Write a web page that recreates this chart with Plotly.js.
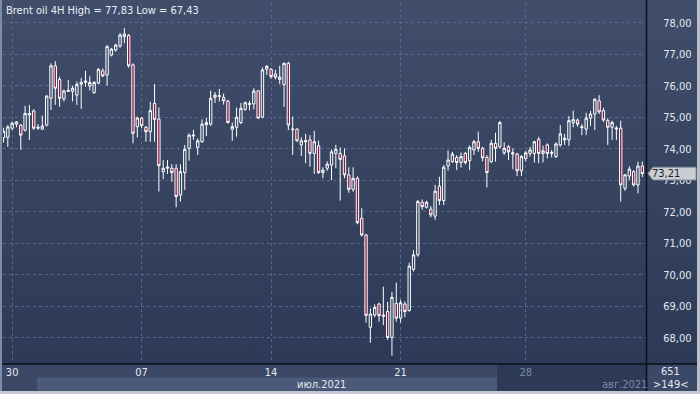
<!DOCTYPE html>
<html>
<head>
<meta charset="utf-8">
<script src="https://cdn.plot.ly/plotly-3.0.1.min.js"></script>
<style>
html,body{margin:0;padding:0;background:#2c3958;}
#chart{width:700px;height:394px;background:linear-gradient(to bottom,#404e6c 0%,#35435f 50%,#2b3856 100%);}
</style>
</head>
<body>
<div id="chart"></div>
<script>
// ---- data (4H candles, Brent oil) ----
const openP = [74.35,74.36,74.65,74.78,74.75,74.59,75.07,75.2,74.65,74.62,
74.75,75.6,76.63,76.2,75.58,75.82,75.82,75.7,76.05,76.1,
75.99,75.78,76.08,76.47,76.34,76.97,77.13,77.26,77.56,77.59,
76.66,74.7,74.97,74.68,74.54,75.44,74.94,73.27,73.38,73.38,
73.38,72.53,73.24,74.01,74.4,74.04,74.22,74.76,74.78,75.63,
75.66,75.63,75.51,74.62,74.68,74.83,75.25,75.4,75.42,75.84,
75.0,76.52,76.52,76.37,76.2,76.04,76.71,74.6,74.62,74.12,
74.22,74.28,73.85,74.09,73.24,73.38,73.48,73.85,73.85,73.77,
73.17,72.71,73.06,71.79,71.26,68.33,68.72,69.07,68.72,68.83,
68.01,69.09,68.62,69.07,68.86,70.17,70.63,72.3,72.14,72.08,
71.86,72.81,72.35,73.45,73.59,73.72,73.56,73.85,73.62,73.96,
74.22,74.01,73.72,73.59,74.17,74.06,73.87,74.06,73.83,73.83,
73.3,73.69,73.85,73.85,74.3,73.85,74.12,73.85,73.75,74.12,
74.28,74.28,74.83,74.91,74.7,74.62,74.97,75.1,75.52,75.21,
74.89,74.68,74.66,74.65,72.74,73.13,73.27,72.85,73.45];
const highP = [74.66,74.75,74.86,74.88,74.78,75.36,75.39,75.25,74.78,75.05,
75.7,76.71,76.78,76.29,75.88,76.18,76.0,76.13,76.24,76.47,
76.3,76.15,76.56,76.55,77.29,77.2,77.33,77.67,77.83,77.64,
76.71,75.02,75.0,74.72,75.49,76.05,75.31,73.64,73.64,73.51,
73.51,73.5,74.12,74.49,74.6,74.33,74.93,74.98,75.84,75.8,
75.9,75.75,75.55,74.83,75.31,75.45,75.5,75.52,75.92,75.86,
76.58,76.66,76.56,76.5,76.63,76.74,76.76,75.02,74.65,74.36,
74.47,74.43,74.57,74.25,73.41,73.6,73.98,74.12,74.04,74.01,
73.41,73.41,73.12,72.11,71.3,68.93,69.06,69.11,69.62,69.14,
69.46,69.75,69.2,69.15,70.38,70.78,72.37,72.39,72.35,72.18,
72.85,73.11,73.48,73.94,73.9,73.8,73.88,73.9,74.1,74.28,
74.54,74.06,73.8,74.28,74.51,74.88,74.2,74.12,74.01,73.87,
73.8,73.93,74.06,74.25,74.38,74.1,74.17,73.96,74.2,74.75,
74.47,75.04,75.21,74.96,74.78,75.14,75.2,75.6,75.7,75.3,
74.97,74.89,74.72,74.89,73.2,73.44,73.32,73.59,73.59];
const lowP = [74.2,74.06,74.59,74.68,73.96,74.54,74.28,74.6,74.6,74.6,
74.7,75.23,75.39,75.33,75.5,75.8,75.5,75.39,75.26,75.97,
75.85,75.74,76.05,76.27,76.0,76.93,77.08,77.2,77.35,76.57,
74.17,74.36,74.65,74.22,74.22,74.22,72.64,73.03,73.2,72.95,
72.14,72.32,72.69,73.62,74.28,73.8,74.19,74.4,74.72,75.45,
75.5,75.4,74.8,74.25,74.38,74.78,75.2,75.22,75.25,74.95,
74.97,76.34,76.22,76.2,76.05,75.33,74.59,73.8,74.22,73.77,
73.54,73.43,73.2,73.2,73.06,73.3,73.0,73.38,72.35,73.06,
72.6,72.63,71.6,71.21,68.48,67.84,68.65,68.51,68.4,67.93,
67.43,68.51,68.48,68.65,68.83,70.1,70.57,72.06,72.1,71.82,
71.74,72.21,72.21,73.3,73.55,73.32,73.4,73.5,73.32,73.8,
73.9,73.6,72.77,73.54,73.59,74.0,73.8,73.64,73.35,73.13,
73.13,73.6,73.75,73.56,73.54,73.56,73.69,73.72,73.7,74.06,
74.12,74.09,74.68,74.7,74.43,74.43,74.73,74.59,75.1,74.85,
74.12,74.28,74.28,72.32,72.66,73.0,72.8,72.58,73.1];
const closeP = [74.55,74.69,74.81,74.85,74.43,75.12,75.12,74.65,74.68,74.72,
75.67,76.63,75.92,75.6,75.83,75.85,75.92,76.04,76.1,76.15,
76.1,76.1,76.52,76.31,77.24,77.16,77.29,77.61,77.64,76.63,
74.49,74.97,74.73,74.54,75.21,74.93,73.46,73.38,73.42,73.24,
72.48,73.27,73.98,74.43,74.43,74.25,74.78,74.83,75.6,75.7,
75.68,75.52,74.83,74.7,75.0,75.28,75.46,75.43,75.83,74.97,
76.5,76.61,76.29,76.27,76.27,76.71,74.75,74.62,74.25,74.25,
74.25,73.85,74.22,73.24,73.32,73.51,73.9,73.98,73.66,73.17,
72.71,73.06,71.65,71.26,68.71,68.75,68.96,68.7,68.68,68.01,
69.28,68.62,69.11,68.83,70.27,70.63,72.32,72.16,72.3,71.9,
72.65,72.35,73.41,73.64,73.83,73.56,73.75,73.56,74.04,74.22,
74.01,73.71,73.24,74.17,74.01,74.83,74.01,73.9,73.87,73.3,
73.75,73.87,73.96,74.22,73.85,73.93,73.85,73.88,74.15,74.47,
74.33,74.89,74.93,74.78,74.67,74.97,75.1,75.57,75.17,74.91,
74.68,74.83,74.63,72.85,73.17,73.35,72.85,73.45,73.21];
const barIndex = closeP.map((_, i) => i);

const dayTickIdx = [2, 32, 62, 92, 121];
const dayTickLabels = ['30', '07', '14', '21', '28'];
const priceTicks = [68, 69, 70, 71, 72, 73, 74, 75, 76, 77, 78];
const priceTickLabels = ['68,00','69,00','70,00','71,00','72,00','73,00','74,00','75,00','76,00','77,00','78,00'];
const monthLabels = ['июл.2021', 'авг.2021'];
const titleText = 'Brent oil 4H High = 77,83 Low = 67,43';
const lastPriceText = '73,21';
const infoCount = '651';
const infoVisible = '>149<';

// ---- layout helpers (pixel -> paper) ----
const PL = 3, PR = 646, PT = 3, PB = 363;
const X = px => (px - PL) / (PR - PL);
const Y = py => (PB - py) / (PB - PT);
const FONT = 'Liberation Sans Narrow, Arial Narrow, DejaVu Sans Condensed, Liberation Sans, Arial, sans-serif';

const trace = {
  type: 'candlestick',
  x: barIndex, open: openP, high: highP, low: lowP, close: closeP,
  increasing: {line: {color: '#ffffff', width: 1}, fillcolor: 'rgba(0,0,0,0)'},
  decreasing: {line: {color: '#ffffff', width: 1}, fillcolor: '#901a44'},
  whiskerwidth: 0,
  hoverinfo: 'skip'
};

function rect(x0, y0, x1, y1, fill, layer) {
  return {type: 'rect', xref: 'paper', yref: 'paper', x0: X(x0), x1: X(x1), y0: Y(y0), y1: Y(y1),
          fillcolor: fill, line: {width: 0}, layer: layer || 'below'};
}
function hline(x0, x1, y, color, w) {
  return {type: 'line', xref: 'paper', yref: 'paper', x0: X(x0), x1: X(x1), y0: Y(y), y1: Y(y),
          line: {color: color, width: w}, layer: 'above'};
}
function vline(x, y0, y1, color, w) {
  return {type: 'line', xref: 'paper', yref: 'paper', x0: X(x), x1: X(x), y0: Y(y0), y1: Y(y1),
          line: {color: color, width: w}, layer: 'above'};
}

const last = closeP[closeP.length - 1];
const hh = 0.2;
const boxPath = 'M ' + X(648) + ' ' + last + ' L ' + X(653) + ' ' + (last + hh) + ' L ' + X(696) + ' ' + (last + hh) +
  ' L ' + X(696) + ' ' + (last - hh) + ' L ' + X(653) + ' ' + (last - hh) + ' Z';

const shapes = [
  rect(2, 364, 697, 391, '#3b4967'),
  rect(37, 377.5, 497, 390.5, '#4b5a78'),
  rect(497, 365, 646, 391, '#2c3957'),
  hline(0, 697, 364, '#0b0f18', 1.5),
  vline(646.5, 0, 391, '#0b0f18', 1.5),
  rect(0, 0, 2, 394, '#7f8ca6', 'above'),
  rect(697, 0, 700, 394, '#b9c0cc', 'above'),
  rect(0, 391, 700, 394, '#c3c9d3', 'above'),
  {type: 'path', xref: 'paper', yref: 'y', path: boxPath, fillcolor: '#c9cdd4', line: {color: '#8e96a6', width: 1}, layer: 'above'}
];

const ann = (px, py, text, size, color, anchor) => ({
  xref: 'paper', yref: 'paper', x: X(px), y: Y(py), text: text, showarrow: false,
  xanchor: anchor || 'center', yanchor: 'middle', font: {family: FONT, size: size, color: color}
});

const annotations = [
  ann(4, 10, titleText, 11, '#e9edf4', 'left'),
  ann(321, 384.5, monthLabels[0], 11, '#e3e8f0'),
  ann(624, 384.5, monthLabels[1], 11, '#7e8aa1'),
  ann(670, 371.5, infoCount, 11, '#e3e8f0'),
  ann(670, 384.5, infoVisible, 11, '#e3e8f0'),
  {xref: 'paper', yref: 'y', x: X(650), y: last, text: lastPriceText, showarrow: false, xanchor: 'left', yanchor: 'middle',
   font: {family: FONT, size: 11, color: '#1b1d22'}}
];

const layout = {
  width: 700, height: 394,
  margin: {l: PL, r: 700 - PR, t: PT, b: 394 - PB, pad: 0},
  paper_bgcolor: 'rgba(0,0,0,0)', plot_bgcolor: 'rgba(0,0,0,0)',
  showlegend: false,
  boxgap: 0.22,
  xaxis: {
    range: [-0.116, 148.86], tickmode: 'array', tickvals: dayTickIdx,
    ticktext: dayTickLabels.map((t, i) => i === 4 ? '<span style="color:#7e8aa1">' + t + '</span>' : t),
    showgrid: true, gridcolor: '#58678a', griddash: '3px,3px', gridwidth: 1,
    zeroline: false, showline: false, ticks: '', ticklabelstandoff: 1,
    tickfont: {family: FONT, size: 11, color: '#e3e8f0'},
    rangeslider: {visible: false}, fixedrange: true
  },
  yaxis: {
    side: 'right', range: [67.197, 78.625], tickmode: 'array', tickvals: priceTicks, ticktext: priceTickLabels,
    showgrid: true, gridcolor: '#58678a', griddash: '3px,3px', gridwidth: 1,
    zeroline: false, showline: false, ticks: 'outside', ticklen: 14, tickcolor: 'rgba(0,0,0,0)',
    tickfont: {family: FONT, size: 11, color: '#e3e8f0'}, fixedrange: true
  },
  shapes: shapes,
  annotations: annotations
};

Plotly.newPlot('chart', [trace], layout, {staticPlot: true, displayModeBar: false});
</script>
</body>
</html>
